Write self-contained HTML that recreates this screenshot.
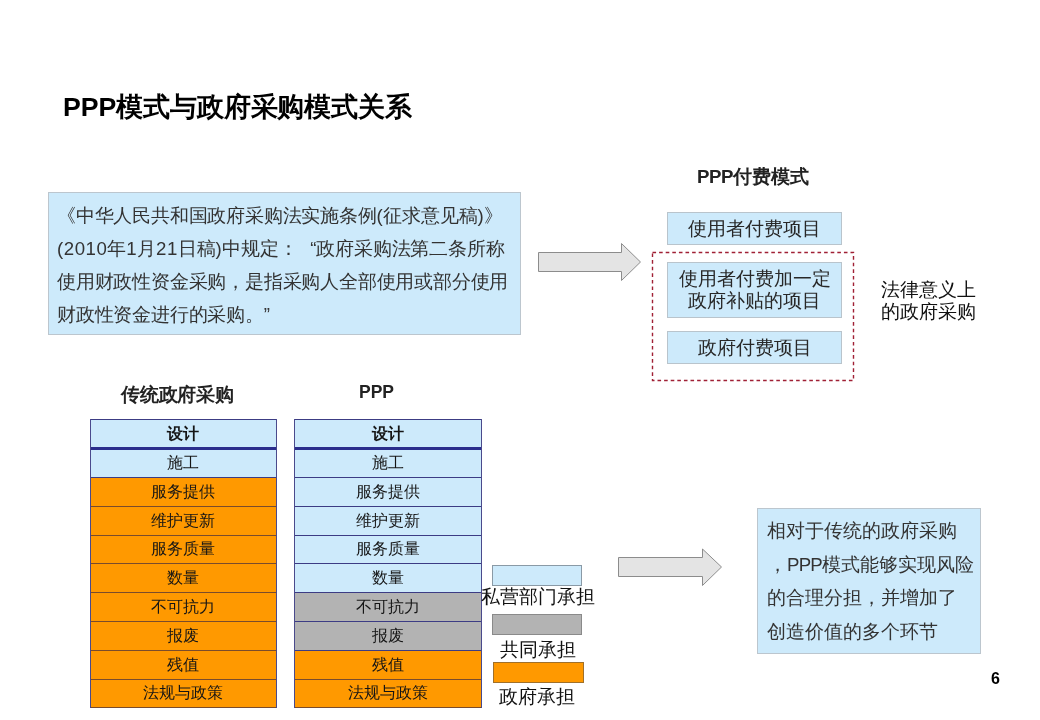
<!DOCTYPE html>
<html><head><meta charset="utf-8">
<style>
html,body{margin:0;padding:0;background:#fff;}
body{width:1040px;height:720px;position:relative;overflow:hidden;font-family:"Liberation Sans",sans-serif;-webkit-font-smoothing:antialiased;}
.a,.tbl{will-change:transform;}
.a{position:absolute;white-space:nowrap;}
.title{left:62.5px;top:87px;font-size:26.67px;font-weight:bold;color:#000;line-height:40px;}
.qbox{left:48px;top:192px;width:471px;height:141px;background:#cdeafb;border:1px solid #bcc6ce;}
.qtxt{left:57px;font-size:18.67px;color:#333;line-height:33px;letter-spacing:-0.2px;}
.lt{letter-spacing:0.55px;}
.fq{display:inline-block;width:19px;text-align:right;letter-spacing:0;}
.ls4{letter-spacing:-0.15px;}
.ls2{letter-spacing:-0.2px;}
.h{font-weight:bold;color:#222;font-size:18.67px;line-height:24px;}
.pbox{background:#cdeafb;border:1px solid #b9c4cc;box-sizing:border-box;text-align:center;color:#282828;font-size:18.67px;}
.dash{left:652px;top:252px;width:202px;height:128px;box-sizing:border-box;border:1.3px dashed #a82a3c;}
.legal{left:881px;top:279px;font-size:18.67px;line-height:22.4px;color:#111;}
.tbl{position:absolute;}
.hl{position:absolute;left:0;width:100%;height:1px;}
.vl{position:absolute;top:419px;width:1px;height:289px;background:#4a4a8c;}
.row{position:absolute;left:0;width:100%;height:29px;box-sizing:border-box;text-align:center;font-size:16px;line-height:29px;color:#151515;}
.b{background:#cdeafb;}
.o{background:#ff9900;}
.g{background:#b3b3b3;}
.leg{position:absolute;box-sizing:border-box;}
.legt{font-size:18.67px;color:#111;line-height:20px;}
.rbox{left:757px;top:508px;width:222px;height:144px;background:#cdeafb;border:1px solid #bcc6ce;}
.rtxt{left:767px;top:514px;font-size:18.67px;color:#333;line-height:33.7px;}
.pn{left:991px;top:670px;font-size:16px;font-weight:bold;color:#000;line-height:18px;}
</style></head>
<body>
<div class="a title">PPP<span class="ls4">模式与政府采购模式关系</span></div>

<div class="a qbox"></div>
<div class="a qtxt" style="top:199px;">《中华人民共和国政府采购法实施条例<span class="lt">(</span>征求意见稿<span class="lt">)</span>》</div>
<div class="a qtxt" style="top:232px;"><span class="lt">(2010</span>年<span class="lt">1</span>月<span class="lt">21</span>日稿<span class="lt">)</span>中规定：<span class="fq">“</span>政府采购法第二条所称</div>
<div class="a qtxt" style="top:265px;">使用财政性资金采购，是指采购人全部使用或部分使用</div>
<div class="a qtxt" style="top:298px;">财政性资金进行的采购。”</div>

<svg class="a" style="left:0;top:0" width="1040" height="720">
  <polygon points="538.5,252.5 621.5,252.5 621.5,243.5 640.5,262 621.5,280.5 621.5,271.5 538.5,271.5" fill="#e4e4e4" stroke="#8c8c8c" stroke-width="1"/>
  <polygon points="618.5,557.5 702.5,557.5 702.5,549 721.5,567 702.5,585.5 702.5,576.5 618.5,576.5" fill="#e4e4e4" stroke="#8c8c8c" stroke-width="1"/>
  <rect x="652.5" y="252.5" width="201" height="128" fill="none" stroke="#a02035" stroke-width="1.4" stroke-dasharray="3.6,3"/>
</svg>

<div class="a h" style="left:697px;top:165px;"><span style="letter-spacing:-0.4px">PPP</span><span class="ls2">付费模式</span></div>
<div class="a pbox" style="left:667px;top:212px;width:175px;height:33px;line-height:31px;">使用者付费项目</div>
<div class="a pbox" style="left:667px;top:262px;width:175px;height:56px;line-height:21.6px;padding-top:5px;">使用者付费加一定<br>政府补贴的项目</div>
<div class="a pbox" style="left:667px;top:331px;width:175px;height:33px;line-height:31px;">政府付费项目</div>
<div class="a legal">法律意义上<br>的政府采购</div>

<div class="a h" style="left:121px;top:383px;letter-spacing:-0.2px;">传统政府采购</div>
<div class="a h" style="left:358.5px;top:379.5px;font-size:17.5px;">PPP</div>

<!--T1-->
<div class="tbl" style="left:90px;top:0;width:187px;height:720px;">
<div class="row b" style="top:419px;height:29px;line-height:29px;padding-right:1px;font-weight:bold;">设计</div>
<div class="row b" style="top:448px;height:29px;line-height:29px;padding-right:1px;">施工</div>
<div class="row o" style="top:477px;height:29px;line-height:29px;padding-right:1px;">服务提供</div>
<div class="row o" style="top:506px;height:29px;line-height:29px;padding-right:1px;">维护更新</div>
<div class="row o" style="top:535px;height:28px;line-height:28px;padding-right:1px;">服务质量</div>
<div class="row o" style="top:563px;height:29px;line-height:29px;padding-right:1px;">数量</div>
<div class="row o" style="top:592px;height:29px;line-height:29px;padding-right:1px;">不可抗力</div>
<div class="row o" style="top:621px;height:29px;line-height:29px;padding-right:1px;">报废</div>
<div class="row o" style="top:650px;height:29px;line-height:29px;padding-right:1px;">残值</div>
<div class="row o" style="top:679px;height:28px;line-height:28px;padding-right:1px;">法规与政策</div>
<div class="hl" style="top:419px;background:#3c3c84;"></div>
<div class="hl" style="top:447px;height:3px;background:#2b2e8c;"></div>
<div class="hl" style="top:477px;background:#3c3c84;"></div>
<div class="hl" style="top:506px;background:#7a4c2c;"></div>
<div class="hl" style="top:535px;background:#7a4c2c;"></div>
<div class="hl" style="top:563px;background:#7a4c2c;"></div>
<div class="hl" style="top:592px;background:#7a4c2c;"></div>
<div class="hl" style="top:621px;background:#7a4c2c;"></div>
<div class="hl" style="top:650px;background:#7a4c2c;"></div>
<div class="hl" style="top:679px;background:#7a4c2c;"></div>
<div class="hl" style="top:707px;background:#7a4c2c;"></div>
<div class="vl" style="left:0;"></div>
<div class="vl" style="left:186px;"></div>
</div>
<!--T2-->
<div class="tbl" style="left:294px;top:0;width:188px;height:720px;">
<div class="row b" style="top:419px;height:29px;line-height:29px;font-weight:bold;">设计</div>
<div class="row b" style="top:448px;height:29px;line-height:29px;">施工</div>
<div class="row b" style="top:477px;height:29px;line-height:29px;">服务提供</div>
<div class="row b" style="top:506px;height:29px;line-height:29px;">维护更新</div>
<div class="row b" style="top:535px;height:28px;line-height:28px;">服务质量</div>
<div class="row b" style="top:563px;height:29px;line-height:29px;">数量</div>
<div class="row g" style="top:592px;height:29px;line-height:29px;">不可抗力</div>
<div class="row g" style="top:621px;height:29px;line-height:29px;">报废</div>
<div class="row o" style="top:650px;height:29px;line-height:29px;">残值</div>
<div class="row o" style="top:679px;height:28px;line-height:28px;">法规与政策</div>
<div class="hl" style="top:419px;background:#3c3c84;"></div>
<div class="hl" style="top:447px;height:3px;background:#2b2e8c;"></div>
<div class="hl" style="top:477px;background:#3c3c84;"></div>
<div class="hl" style="top:506px;background:#3c3c84;"></div>
<div class="hl" style="top:535px;background:#3c3c84;"></div>
<div class="hl" style="top:563px;background:#3c3c84;"></div>
<div class="hl" style="top:592px;background:#3c3c84;"></div>
<div class="hl" style="top:621px;background:#3c3c84;"></div>
<div class="hl" style="top:650px;background:#3c3c84;"></div>
<div class="hl" style="top:679px;background:#7a4c2c;"></div>
<div class="hl" style="top:707px;background:#7a4c2c;"></div>
<div class="vl" style="left:0;"></div>
<div class="vl" style="left:187px;"></div>
</div>

<div class="leg b" style="left:492px;top:565px;width:90px;height:21px;border:1px solid #8a9aa6;"></div>
<div class="a legt" style="left:481px;top:587px;">私营部门承担</div>
<div class="leg g" style="left:492px;top:614px;width:90px;height:21px;border:1px solid #8a8a8a;"></div>
<div class="a legt" style="left:500px;top:640px;">共同承担</div>
<div class="leg o" style="left:493px;top:662px;width:91px;height:21px;border:1px solid #a0702a;"></div>
<div class="a legt" style="left:499px;top:687px;">政府承担</div>

<div class="a rbox"></div>
<div class="a rtxt">相对于传统的政府采购<br><span style="margin-left:1px">，</span><span style="letter-spacing:-0.8px">PPP</span>模式能够实现风险<br>的合理分担，并增加了<br>创造价值的多个环节</div>

<div class="a pn">6</div>
</body></html>
